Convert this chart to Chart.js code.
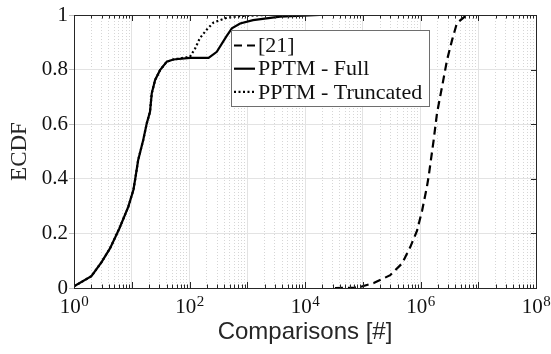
<!DOCTYPE html>
<html>
<head>
<meta charset="utf-8">
<script src="https://cdn.jsdelivr.net/npm/chart.js@4.4.0/dist/chart.umd.min.js"></script>
<style>
  html, body { margin: 0; padding: 0; background: #fff; }
  canvas { display: block; }
</style>
</head>
<body>
<canvas id="ecdfChart" width="551" height="354"></canvas>
<script>
// series (x = comparisons, y = ECDF)
const refX = [33000, 69000, 90600, 155000, 299000, 479000, 665000, 871000, 1070000, 1290000, 1380000, 1690000, 1930000, 2360000, 2880000, 3520000, 4270000, 6300000];
const refY = [0, 0.001, 0.004, 0.018, 0.047, 0.09, 0.15, 0.21, 0.285, 0.37, 0.407, 0.542, 0.64, 0.737, 0.835, 0.908, 0.97, 1];

const fullX = [1, 2, 3, 4.2, 6.1, 8.7, 10.7, 11.5, 12.9, 15.8, 18.2, 20.7, 22.2, 25.4, 30.9, 40.4, 52.5, 102, 214, 297, 430, 541, 753, 1260, 3700, 18000];
const fullY = [0.006, 0.043, 0.095, 0.145, 0.218, 0.297, 0.36, 0.40, 0.468, 0.542, 0.603, 0.645, 0.713, 0.762, 0.798, 0.829, 0.837, 0.843, 0.843, 0.865, 0.92, 0.951, 0.969, 0.981, 0.994, 1];

const truncX = [1, 2, 3, 4.2, 6.1, 8.7, 10.7, 11.5, 12.9, 15.8, 18.2, 20.7, 22.2, 25.4, 30.9, 40.4, 52.5, 102, 125, 151, 200, 259, 442, 760, 2000];
const truncY = [0.006, 0.043, 0.095, 0.145, 0.218, 0.297, 0.36, 0.40, 0.468, 0.542, 0.603, 0.645, 0.713, 0.762, 0.798, 0.829, 0.837, 0.847, 0.877, 0.915, 0.947, 0.972, 0.99, 0.996, 1];

const seriesLabels = ['[21]', 'PPTM - Full', 'PPTM - Truncated'];
const xTickExp = [0, 2, 4, 6, 8];
const yTicks = [0, 0.2, 0.4, 0.6, 0.8, 1];

const SERIF = '"Liberation Serif", "Times New Roman", serif';
const AXIS = '#262626';

const toPoints = (xs, ys) => xs.map((x, i) => ({ x: x, y: ys[i] }));

const decades = [];
const minors = [];
for (let k = 0; k <= 8; k++) {
  decades.push(Math.pow(10, k));
  if (k < 8) for (let m = 2; m <= 9; m++) minors.push(m * Math.pow(10, k));
}

// box on all four sides + inward tick marks + superscript x labels
const framePlugin = {
  id: 'frame',
  afterDraw(chart) {
    const { ctx, chartArea: a, scales } = chart;
    const x = scales.x, y = scales.y;
    ctx.save();
    ctx.strokeStyle = AXIS;
    ctx.lineWidth = 1;
    ctx.beginPath();
    decades.concat(minors).forEach(v => {
      const px = Math.round(x.getPixelForValue(v)) + 0.5;
      const len = decades.includes(v) ? 6 : 3.5;
      ctx.moveTo(px, a.bottom); ctx.lineTo(px, a.bottom - len);
      ctx.moveTo(px, a.top); ctx.lineTo(px, a.top + len);
    });
    yTicks.forEach(v => {
      const py = Math.round(y.getPixelForValue(v)) + 0.5;
      ctx.moveTo(a.right, py); ctx.lineTo(a.right - 5, py);
    });
    ctx.stroke();
    ctx.strokeRect(a.left + 0.5, a.top + 0.5, a.right - a.left, a.bottom - a.top);

    ctx.fillStyle = '#111';
    ctx.textBaseline = 'alphabetic';
    ctx.textAlign = 'left';
    xTickExp.forEach(e => {
      const px = x.getPixelForValue(Math.pow(10, e));
      ctx.font = '21px ' + SERIF;
      const w1 = ctx.measureText('10').width;
      ctx.font = '15px ' + SERIF;
      const w2 = ctx.measureText(String(e)).width;
      const x0 = px - (w1 + w2) / 2;
      ctx.font = '21px ' + SERIF;
      ctx.fillText('10', x0, a.bottom + 25);
      ctx.font = '15px ' + SERIF;
      ctx.fillText(String(e), x0 + w1 + 0.5, a.bottom + 18);
    });
    ctx.restore();
  }
};

// legend box inside the plot, samples use each dataset's own style
const legendPlugin = {
  id: 'boxLegend',
  afterDraw(chart) {
    const { ctx } = chart;
    const bx = 231, by = 30, bw = 198, bh = 76;
    ctx.save();
    ctx.fillStyle = '#fff';
    ctx.fillRect(bx, by, bw, bh);
    ctx.strokeStyle = '#6e6e6e';
    ctx.lineWidth = 1;
    ctx.strokeRect(bx + 0.5, by + 0.5, bw, bh);
    ctx.font = '22px ' + SERIF;
    ctx.textBaseline = 'middle';
    ctx.fillStyle = '#111';
    chart.data.datasets.forEach((ds, i) => {
      const cy = by + 15.5 + i * 23.2;
      ctx.strokeStyle = ds.borderColor;
      ctx.lineWidth = ds.borderWidth;
      ctx.setLineDash(ds.borderDash || []);
      ctx.beginPath();
      ctx.moveTo(bx + 3, cy);
      ctx.lineTo(bx + 24, cy);
      ctx.stroke();
      ctx.setLineDash([]);
      ctx.fillText(ds.label, bx + 27, cy + 1);
    });
    ctx.restore();
  }
};

new Chart(document.getElementById('ecdfChart').getContext('2d'), {
  type: 'line',
  data: {
    datasets: [
      { label: seriesLabels[0], data: toPoints(refX, refY), borderColor: '#000', borderWidth: 2.2, borderDash: [8, 5] },
      { label: seriesLabels[1], data: toPoints(fullX, fullY), borderColor: '#000', borderWidth: 2.2 },
      { label: seriesLabels[2], data: toPoints(truncX, truncY), borderColor: '#000', borderWidth: 2.2, borderDash: [2, 2.5] }
    ]
  },
  options: {
    responsive: false,
    animation: false,
    events: [],
    layout: { padding: { left: 0, top: 15, right: 15, bottom: 0 } },
    elements: { point: { radius: 0 }, line: { tension: 0, fill: false } },
    plugins: { legend: { display: false }, tooltip: { enabled: false } },
    scales: {
      x: {
        type: 'logarithmic',
        position: 'bottom',
        min: 1,
        max: 1e8,
        afterBuildTicks: s => { s.ticks = decades.map(v => ({ value: v })); },
        afterFit: s => { s.height = 66; },
        ticks: { display: false },
        grid: { color: '#e3e3e3', lineWidth: 1, drawTicks: false },
        border: { display: false },
        title: {
          display: true,
          text: 'Comparisons [#]',
          color: AXIS,
          font: { family: '"Liberation Sans", Arial, sans-serif', size: 24 },
          padding: { top: 0, bottom: 7 }
        }
      },
      xMinor: {
        type: 'logarithmic',
        position: 'bottom',
        min: 1,
        max: 1e8,
        afterBuildTicks: s => { s.ticks = minors.map(v => ({ value: v })); },
        afterFit: s => { s.height = 0; },
        ticks: { display: false },
        grid: { color: '#d6d6d6', lineWidth: 1, drawTicks: false },
        border: { display: false, dash: [1, 2] }
      },
      y: {
        min: 0,
        max: 1,
        afterBuildTicks: s => { s.ticks = yTicks.map(v => ({ value: v })); },
        afterFit: s => { s.width = 74; },
        ticks: {
          color: '#111',
          font: { family: SERIF, size: 21 },
          padding: 1,
          callback: v => (v === 0 || v === 1) ? String(v) : v.toFixed(1)
        },
        grid: { color: '#e3e3e3', lineWidth: 1, tickLength: 5, tickColor: '#bdbdbd' },
        border: { display: false },
        title: {
          display: true,
          text: 'ECDF',
          color: AXIS,
          font: { family: SERIF, size: 23 },
          padding: { top: 6, bottom: 0 }
        }
      }
    }
  },
  plugins: [framePlugin, legendPlugin]
});
</script>
</body>
</html>
